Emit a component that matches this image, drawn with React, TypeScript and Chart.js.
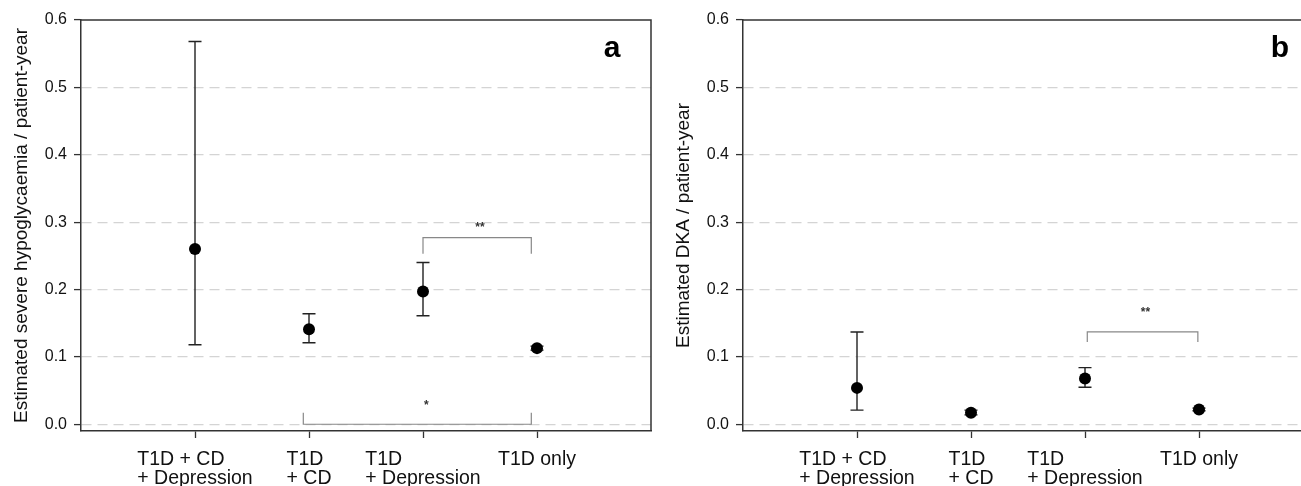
import React, { useEffect, useRef } from "react";
import { Chart, registerables } from "chart.js";

Chart.register(...registerables);

const FONT = "'Liberation Sans', Arial, Helvetica, sans-serif";

const categories: string[][] = [
  ["T1D + CD", "+ Depression"],
  ["T1D", "+ CD"],
  ["T1D", "+ Depression"],
  ["T1D only"],
];
const categoryPositions = [1, 2, 3, 4];
const yTicks = [0, 0.1, 0.2, 0.3, 0.4, 0.5, 0.6];

// Panel a: severe hypoglycaemia
const hypoEstimate = [0.26, 0.141, 0.197, 0.113];
const hypoLower = [0.118, 0.121, 0.161, 0.11];
const hypoUpper = [0.568, 0.164, 0.24, 0.116];

// Panel b: DKA
const dkaEstimate = [0.054, 0.017, 0.068, 0.022];
const dkaLower = [0.021, 0.014, 0.055, 0.02];
const dkaUpper = [0.137, 0.021, 0.084, 0.024];

type Bracket = { from: number; to: number; y: number; legY: number; label: string; labelX: number; labelY: number };

const hypoBrackets: Bracket[] = [
  { from: 3.0, to: 3.95, y: 0.277, legY: 0.253, label: "**", labelX: 3.5, labelY: 0.295 },
  { from: 1.95, to: 3.95, y: 0.0, legY: 0.017, label: "*", labelX: 3.03, labelY: 0.03 },
];
const dkaBrackets: Bracket[] = [
  { from: 3.02, to: 3.99, y: 0.137, legY: 0.122, label: "**", labelX: 3.53, labelY: 0.168 },
];

type Panel = {
  title: string;
  letter: string;
  letterOffset: number;
  est: number[];
  lo: number[];
  hi: number[];
  brackets: Bracket[];
};

const panels: Panel[] = [
  { title: "Estimated severe hypoglycaemia / patient-year", letter: "a", letterOffset: 531, est: hypoEstimate, lo: hypoLower, hi: hypoUpper, brackets: hypoBrackets },
  { title: "Estimated DKA / patient-year", letter: "b", letterOffset: 537, est: dkaEstimate, lo: dkaLower, hi: dkaUpper, brackets: dkaBrackets },
];

function makeChart(canvas: HTMLCanvasElement, p: Panel) {
  const overlay = {
    id: "overlay" + p.letter,
    beforeDatasetsDraw(chart: any) {
      const { ctx } = chart;
      const xs = chart.scales.x;
      const ys = chart.scales.y;
      ctx.save();
      ctx.strokeStyle = "#222";
      ctx.lineWidth = 1.4;
      categoryPositions.forEach((c, i) => {
        const px = xs.getPixelForValue(c);
        const yl = ys.getPixelForValue(p.lo[i]);
        const yh = ys.getPixelForValue(p.hi[i]);
        ctx.beginPath();
        ctx.moveTo(px, yl);
        ctx.lineTo(px, yh);
        ctx.moveTo(px - 6.5, yl);
        ctx.lineTo(px + 6.5, yl);
        ctx.moveTo(px - 6.5, yh);
        ctx.lineTo(px + 6.5, yh);
        ctx.stroke();
      });
      ctx.restore();
    },
    afterDraw(chart: any) {
      const { ctx, chartArea } = chart;
      const xs = chart.scales.x;
      const ys = chart.scales.y;
      ctx.save();
      // frame (top & right)
      ctx.strokeStyle = "#333";
      ctx.lineWidth = 1.5;
      ctx.beginPath();
      ctx.moveTo(chartArea.left, chartArea.top);
      ctx.lineTo(chartArea.right, chartArea.top);
      ctx.lineTo(chartArea.right, chartArea.bottom);
      ctx.stroke();

      // brackets
      ctx.strokeStyle = "#888";
      ctx.lineWidth = 1.2;
      p.brackets.forEach((b) => {
        const x1 = xs.getPixelForValue(b.from);
        const x2 = xs.getPixelForValue(b.to);
        const y = ys.getPixelForValue(b.y);
        const yl = ys.getPixelForValue(b.legY);
        ctx.beginPath();
        ctx.moveTo(x1, yl);
        ctx.lineTo(x1, y);
        ctx.lineTo(x2, y);
        ctx.lineTo(x2, yl);
        ctx.stroke();
        ctx.fillStyle = "#333";
        ctx.font = `bold 12px ${FONT}`;
        ctx.textAlign = "center";
        ctx.textBaseline = "middle";
        ctx.fillText(b.label, xs.getPixelForValue(b.labelX), ys.getPixelForValue(b.labelY) + 2);
      });

      // panel letter
      ctx.fillStyle = "#000";
      ctx.font = `bold 30px ${FONT}`;
      ctx.textAlign = "center";
      ctx.textBaseline = "alphabetic";
      ctx.fillText(p.letter, chartArea.left + p.letterOffset, 57);

      // x category labels (left-aligned lines, block centred on tick)
      ctx.fillStyle = "#111";
      ctx.font = `19.5px ${FONT}`;
      ctx.textAlign = "left";
      categories.forEach((lines, i) => {
        const px = xs.getPixelForValue(categoryPositions[i]);
        const w = Math.max(...lines.map((l) => ctx.measureText(l).width));
        lines.forEach((l, j) => {
          ctx.fillText(l, px - w / 2, chartArea.bottom + 34 + j * 19);
        });
      });
      ctx.restore();
    },
  };

  return new Chart(canvas, {
    type: "scatter",
    data: {
      datasets: [
        {
          data: categoryPositions.map((x, i) => ({ x, y: p.est[i] })),
          pointRadius: 6,
          pointBackgroundColor: "#000",
          pointBorderColor: "#000",
          pointBorderWidth: 0,
          showLine: false,
        },
      ],
    },
    options: {
      responsive: false,
      animation: false,
      layout: { padding: { top: 20, right: 9, left: 0, bottom: 0 } },
      plugins: { legend: { display: false }, tooltip: { enabled: false } },
      scales: {
        x: {
          type: "linear",
          min: 0,
          max: 5,
          afterBuildTicks: (s: any) => {
            s.ticks = categoryPositions.map((v) => ({ value: v }));
          },
          afterFit: (s: any) => {
            s.height = 55;
          },
          ticks: { color: "transparent", callback: () => "" },
          grid: { drawOnChartArea: false, drawTicks: true, tickLength: 7, tickColor: "#333", tickWidth: 1.3 },
          border: { color: "#333", width: 1.5 },
        },
        y: {
          type: "linear",
          min: -0.01,
          max: 0.6,
          afterBuildTicks: (s: any) => {
            s.ticks = yTicks.map((v) => ({ value: v }));
          },
          afterFit: (s: any) => {
            s.width = 81;
          },
          ticks: {
            color: "#111",
            font: { family: FONT, size: 16 },
            padding: 7,
            callback: (v: any) => Number(v).toFixed(1),
          },
          grid: {
            color: (c: any) => (c.tick && c.tick.value >= 0.59 ? "transparent" : "#d4d4d4"),
            lineWidth: 1.2,
            tickLength: 7,
            tickColor: "#333",
            tickWidth: 1.3,
          },
          border: { color: "#333", width: 1.5, dash: [10, 6] },
          title: {
            display: true,
            text: p.title,
            color: "#111",
            font: { family: FONT, size: 19 },
            padding: { top: 10, bottom: 0 },
          },
        },
      },
    },
    plugins: [overlay],
  } as any);
}

function PanelChart({ panel, left }: { panel: Panel; left: number }) {
  const ref = useRef<HTMLCanvasElement | null>(null);
  useEffect(() => {
    if (!ref.current) return;
    const chart = makeChart(ref.current, panel);
    return () => chart.destroy();
  }, [panel]);
  return (
    <canvas
      ref={ref}
      width={660}
      height={486}
      style={{ position: "absolute", left, top: 0, width: 660, height: 486 }}
    />
  );
}

export default function App() {
  return (
    <div
      style={{
        position: "fixed",
        left: 0,
        top: 0,
        width: 1301,
        height: 486,
        overflow: "hidden",
        background: "#fff",
      }}
    >
      <PanelChart panel={panels[0]} left={0} />
      <PanelChart panel={panels[1]} left={662} />
    </div>
  );
}
